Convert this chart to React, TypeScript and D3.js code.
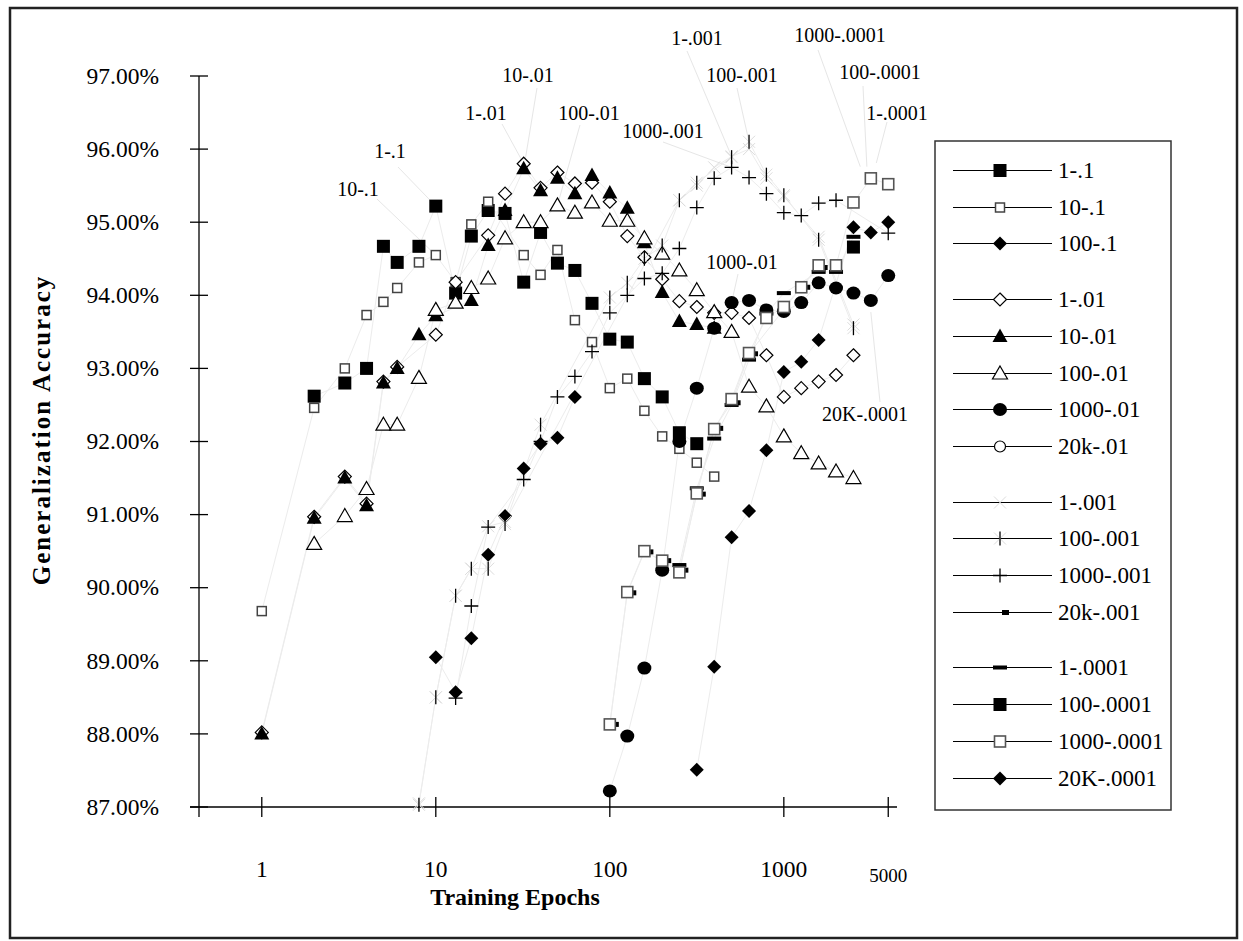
import React, { useEffect, useRef } from "react";
import * as d3 from "d3";

type Pt = [number, number];

// [epochs, accuracy %]
const s1_1: Pt[] = [[2,92.62],[3,92.8],[4,93.0],[5,94.67],[6,94.45],[8,94.67],[10,95.22],[13,94.03],[16,94.81],[20,95.16],[25,95.12],[32,94.18],[40,94.86],[50,94.44],[63,94.34],[79,93.89],[100,93.4],[126,93.36],[158,92.86],[200,92.61],[251,92.12],[316,91.97]];
const s10_1: Pt[] = [[1,89.68],[2,92.46],[3,93.0],[4,93.73],[5,93.91],[6,94.1],[8,94.45],[10,94.55],[13,94.18],[16,94.97],[20,95.28],[32,94.55],[40,94.28],[50,94.62],[63,93.66],[79,93.36],[100,92.73],[126,92.86],[158,92.42],[200,92.07],[251,91.9],[316,91.71],[398,91.52]];
const s100_1: Pt[] = [[10,89.05],[13,88.57],[16,89.31],[20,90.45],[25,90.98],[32,91.63],[40,91.97],[50,92.05],[63,92.61]];
const s1_01: Pt[] = [[1,88.02],[2,90.97],[3,91.52],[4,91.15],[5,92.82],[6,93.02],[10,93.46],[13,94.18],[20,94.82],[25,95.39],[32,95.8],[40,95.47],[50,95.68],[63,95.53],[79,95.54],[100,95.28],[126,94.81],[158,94.52],[200,94.22],[251,93.92],[316,93.84],[398,93.76],[501,93.76],[631,93.69],[794,93.18],[1000,92.61],[1259,92.73],[1585,92.82],[1995,92.91],[2512,93.18]];
const s10_01: Pt[] = [[1,88.0],[2,90.95],[3,91.5],[4,91.12],[5,92.8],[6,93.0],[8,93.46],[10,93.72],[16,93.93],[20,94.68],[25,95.16],[32,95.73],[40,95.43],[50,95.6],[63,95.39],[79,95.64],[100,95.4],[126,95.19],[158,94.72],[200,94.04],[251,93.64],[316,93.6],[398,93.55]];
const s100_01: Pt[] = [[2,90.6],[3,90.98],[4,91.35],[5,92.23],[6,92.23],[8,92.87],[10,93.8],[13,93.9],[16,94.1],[20,94.23],[25,94.78],[32,95.0],[40,95.0],[50,95.23],[63,95.13],[79,95.27],[100,95.02],[126,95.02],[158,94.78],[200,94.57],[251,94.34],[316,94.07],[398,93.77],[501,93.5],[631,92.75],[794,92.48],[1000,92.07],[1259,91.84],[1585,91.7],[1995,91.59],[2512,91.5]];
const s1000_01: Pt[] = [[100,87.22],[126,87.97],[158,88.9],[200,90.24],[251,92.0],[316,92.73],[398,93.55],[501,93.9],[631,93.93],[794,93.8],[1000,93.78],[1259,93.9],[1585,94.17],[1995,94.1],[2512,94.03],[3162,93.93],[3981,94.27]];
const s20k_01: Pt[] = [];
const s1_001: Pt[] = [[8,87.05],[10,88.5],[13,89.89],[16,90.26],[20,90.84],[25,90.9],[251,95.3],[316,95.5],[398,95.75],[501,95.9],[631,96.0],[794,95.6],[1000,95.35],[1585,94.8],[2512,93.6]];
const s100_001: Pt[] = [[8,87.03],[10,88.5],[13,89.89],[16,90.26],[20,90.26],[25,90.87],[40,92.23],[100,93.97],[126,94.17],[158,94.5],[200,94.68],[251,95.3],[316,95.54],[501,95.89],[631,96.1],[794,95.65],[1000,95.37],[1585,94.76],[2512,93.55]];
const s1000_001: Pt[] = [[13,88.49],[16,89.75],[20,90.83],[32,91.48],[40,92.0],[50,92.61],[63,92.89],[79,93.23],[100,93.76],[126,94.0],[158,94.23],[200,94.3],[251,94.64],[316,95.2],[398,95.6],[501,95.75],[631,95.61],[794,95.39],[1000,95.13],[1259,95.09],[1585,95.26],[1995,95.3],[3981,94.85]];
const s20k_001: Pt[] = [[100,88.13],[126,89.93],[158,90.49],[200,90.37],[251,90.24],[316,91.28],[398,92.18],[501,92.53],[631,93.2],[1259,94.11],[1585,94.38]];
const s1_0001: Pt[] = [[251,90.31],[316,91.36],[398,92.04],[501,92.5],[631,93.12],[794,93.75],[1000,94.03],[1585,94.32],[1995,94.32],[2512,94.8]];
const s100_0001: Pt[] = [[2512,94.66]];
const s1000_0001: Pt[] = [[100,88.13],[126,89.94],[158,90.5],[200,90.37],[251,90.21],[316,91.29],[398,92.17],[501,92.58],[631,93.21],[794,93.69],[1000,93.84],[1259,94.11],[1585,94.41],[1995,94.41],[2512,95.27],[3162,95.6],[3981,95.52]];
const s20K_0001: Pt[] = [[316,87.51],[398,88.92],[501,90.69],[631,91.05],[794,91.88],[1000,92.95],[1259,93.09],[1585,93.39],[2512,94.93],[3162,94.86],[3981,95.0]];

const seriesNames = ["1-.1","10-.1","100-.1","1-.01","10-.01","100-.01","1000-.01","20k-.01","1-.001","100-.001","1000-.001","20k-.001","1-.0001","100-.0001","1000-.0001","20K-.0001"];
const seriesData = [s1_1,s10_1,s100_1,s1_01,s10_01,s100_01,s1000_01,s20k_01,s1_001,s100_001,s1000_001,s20k_001,s1_0001,s100_0001,s1000_0001,s20K_0001];
const seriesGroup = [0,0,0,1,1,1,1,1,2,2,2,2,3,3,3,3];
const seriesMarker = ["sqBig","sqSmall","diaF","diaO","triF","triO","circF","circO","xFaint","tick","plus","rectS","bar","sqBig","sqOpen","diaF"];

const yTicks = [87,88,89,90,91,92,93,94,95,96,97];
const xTickValues = [1,10,100,1000,3981];
const xTickLabels = ["1","10","100","1000","5000"];

// data labels: text, label centre, leader start, leader end [epochs, acc]
const labels: { t: string; lx: number; ly: number; sx: number; sy: number; e: Pt }[] = [
  { t: "1-.1", lx: 390, ly: 151, sx: 398, sy: 167, e: [10,95.22] },
  { t: "10-.1", lx: 358, ly: 189, sx: 377, sy: 199, e: [10,94.55] },
  { t: "1-.01", lx: 486, ly: 113, sx: 502, sy: 124, e: [32,95.8] },
  { t: "10-.01", lx: 528, ly: 75, sx: 537, sy: 88, e: [32,95.73] },
  { t: "100-.01", lx: 589, ly: 113, sx: 580, sy: 125, e: [50,95.23] },
  { t: "1000-.001", lx: 663, ly: 131, sx: 663, sy: 142, e: [501,95.75] },
  { t: "1-.001", lx: 697, ly: 38, sx: 687, sy: 51, e: [501,95.9] },
  { t: "100-.001", lx: 742, ly: 75, sx: 737, sy: 88, e: [631,96.1] },
  { t: "1000-.0001", lx: 840, ly: 35, sx: 818, sy: 50, e: [2750,95.76] },
  { t: "100-.0001", lx: 880, ly: 72, sx: 863, sy: 86, e: [3000,95.76] },
  { t: "1-.0001", lx: 897, ly: 113, sx: 887, sy: 122, e: [3400,95.81] },
  { t: "1000-.01", lx: 742, ly: 262, sx: 738, sy: 274, e: [501,93.9] },
  { t: "20K-.0001", lx: 865, ly: 414, sx: 880, sy: 402, e: [3162,93.77] },
];

const FONT = "'Liberation Serif', 'Times New Roman', serif";

function drawMarker(g: any, kind: string, x: number, y: number) {
  const faintX = () =>
    g.append("path")
      .attr("d", `M${x-6},${y-6}L${x+6},${y+6}M${x-6},${y+6}L${x+6},${y-6}`)
      .attr("stroke", "#dcdcdc").attr("stroke-width", 1).attr("fill", "none");
  switch (kind) {
    case "sqBig":
      g.append("rect").attr("x", x-6.5).attr("y", y-6.5).attr("width", 13).attr("height", 13).attr("fill", "#000");
      break;
    case "sqSmall":
      g.append("rect").attr("x", x-4.5).attr("y", y-4.5).attr("width", 9).attr("height", 9)
        .attr("fill", "#fff").attr("stroke", "#444").attr("stroke-width", 1.5);
      break;
    case "sqOpen":
      g.append("rect").attr("x", x-5.5).attr("y", y-5.5).attr("width", 11).attr("height", 11)
        .attr("fill", "#fff").attr("stroke", "#555").attr("stroke-width", 1.6);
      break;
    case "diaF":
      g.append("path").attr("d", `M${x},${y-7}L${x+7},${y}L${x},${y+7}L${x-7},${y}Z`).attr("fill", "#000");
      break;
    case "diaO":
      g.append("path").attr("d", `M${x},${y-6.5}L${x+6.5},${y}L${x},${y+6.5}L${x-6.5},${y}Z`)
        .attr("fill", "#fff").attr("stroke", "#000").attr("stroke-width", 1.2);
      break;
    case "triF":
      g.append("path").attr("d", `M${x},${y-8}L${x+7.5},${y+5.5}L${x-7.5},${y+5.5}Z`).attr("fill", "#000");
      break;
    case "triO":
      g.append("path").attr("d", `M${x},${y-7.5}L${x+7.5},${y+5.5}L${x-7.5},${y+5.5}Z`)
        .attr("fill", "#fff").attr("stroke", "#000").attr("stroke-width", 1.2);
      break;
    case "circF":
      g.append("ellipse").attr("cx", x).attr("cy", y).attr("rx", 7).attr("ry", 6.5).attr("fill", "#000");
      break;
    case "circO":
      g.append("circle").attr("cx", x).attr("cy", y).attr("r", 5.5)
        .attr("fill", "#fff").attr("stroke", "#000").attr("stroke-width", 1.2);
      break;
    case "xFaint":
      faintX();
      break;
    case "tick":
      faintX();
      g.append("path").attr("d", `M${x},${y-7}V${y+7}`).attr("stroke", "#000").attr("stroke-width", 1.3);
      break;
    case "plus":
      g.append("path").attr("d", `M${x},${y-7}V${y+7}M${x-7},${y}H${x+7}`).attr("stroke", "#000").attr("stroke-width", 1.3);
      break;
    case "rectS":
      g.append("rect").attr("x", x+2).attr("y", y-2.5).attr("width", 7).attr("height", 5).attr("fill", "#000");
      break;
    case "bar":
      g.append("rect").attr("x", x-7).attr("y", y-2).attr("width", 14).attr("height", 4).attr("fill", "#000");
      break;
  }
}

export default function App() {
  const ref = useRef<SVGSVGElement>(null);

  useEffect(() => {
    document.body.style.margin = "0";
    const svg = d3.select(ref.current);
    svg.selectAll("*").remove();

    const x = d3.scaleLog().domain([0.43, 4470]).range([198, 897]);
    const y = d3.scaleLinear().domain([87, 97]).range([807, 76]);

    // outer frame
    svg.append("rect").attr("x", 10).attr("y", 8).attr("width", 1227).attr("height", 930)
      .attr("fill", "#fff").attr("stroke", "#222").attr("stroke-width", 2.5);

    // faint series lines
    const line = d3.line<Pt>().x(d => x(d[0])).y(d => y(d[1]));
    const lines = svg.append("g");
    seriesData.forEach(data => {
      if (data.length > 1)
        lines.append("path").attr("d", line(data)).attr("fill", "none")
          .attr("stroke", "#ececec").attr("stroke-width", 1);
    });

    // leader lines
    const lead = svg.append("g");
    labels.forEach(l => {
      lead.append("line").attr("x1", l.sx).attr("y1", l.sy).attr("x2", x(l.e[0])).attr("y2", y(l.e[1]))
        .attr("stroke", "#e6e6e6").attr("stroke-width", 1);
    });

    // axes
    const ax = svg.append("g").attr("stroke", "#000").attr("stroke-width", 1.3);
    ax.append("line").attr("x1", 199).attr("x2", 199).attr("y1", y(97)).attr("y2", 817);
    ax.append("line").attr("x1", 190).attr("x2", 897).attr("y1", y(87)).attr("y2", y(87));
    yTicks.forEach(v => {
      ax.append("line").attr("x1", 190).attr("x2", 208).attr("y1", y(v)).attr("y2", y(v));
    });
    xTickValues.forEach(v => {
      ax.append("line").attr("x1", x(v)).attr("x2", x(v)).attr("y1", y(87) - 10).attr("y2", y(87) + 10);
    });

    const txt = svg.append("g").attr("font-family", FONT).attr("fill", "#000");
    yTicks.forEach(v => {
      txt.append("text").attr("x", 159).attr("y", y(v)).attr("dy", "0.33em").attr("text-anchor", "end")
        .attr("font-size", 23.5).text(v.toFixed(2) + "%");
    });
    xTickValues.forEach((v, i) => {
      const last = i === xTickValues.length - 1;
      txt.append("text").attr("x", x(v)).attr("y", last ? 882 : 877).attr("text-anchor", "middle")
        .attr("font-size", last ? 19 : 23.5).text(xTickLabels[i]);
    });
    txt.append("text").attr("x", 515).attr("y", 905).attr("text-anchor", "middle")
      .attr("font-size", 24).attr("font-weight", "bold").text("Training Epochs");
    txt.append("text").attr("transform", "translate(50,430) rotate(-90)").attr("text-anchor", "middle")
      .attr("font-size", 25).attr("font-weight", "bold").attr("letter-spacing", 2)
      .text("Generalization Accuracy");

    // markers
    const mk = svg.append("g");
    seriesData.forEach((data, i) => {
      data.forEach(d => drawMarker(mk, seriesMarker[i], x(d[0]), y(d[1])));
    });

    // data labels
    labels.forEach(l => {
      txt.append("text").attr("x", l.lx).attr("y", l.ly).attr("dy", "0.33em").attr("text-anchor", "middle")
        .attr("font-size", 20).text(l.t);
    });

    // legend
    const lg = svg.append("g");
    lg.append("rect").attr("x", 935).attr("y", 141).attr("width", 236).attr("height", 669)
      .attr("fill", "#fff").attr("stroke", "#333").attr("stroke-width", 1.5);
    seriesNames.forEach((name, i) => {
      const ly = Math.round(170 + i * 36.7 + seriesGroup[i] * 19) + 0.5;
      lg.append("line").attr("x1", 953).attr("x2", 1052).attr("y1", ly).attr("y2", ly)
        .attr("stroke", "#000").attr("stroke-width", 1);
      drawMarker(lg, seriesMarker[i], 1000, ly);
      lg.append("text").attr("x", 1058).attr("y", ly).attr("dy", "0.33em")
        .attr("font-family", FONT).attr("font-size", 23).text(name);
    });
  }, []);

  return <svg ref={ref} width={1243} height={941} style={{ display: "block" }} />;
}
